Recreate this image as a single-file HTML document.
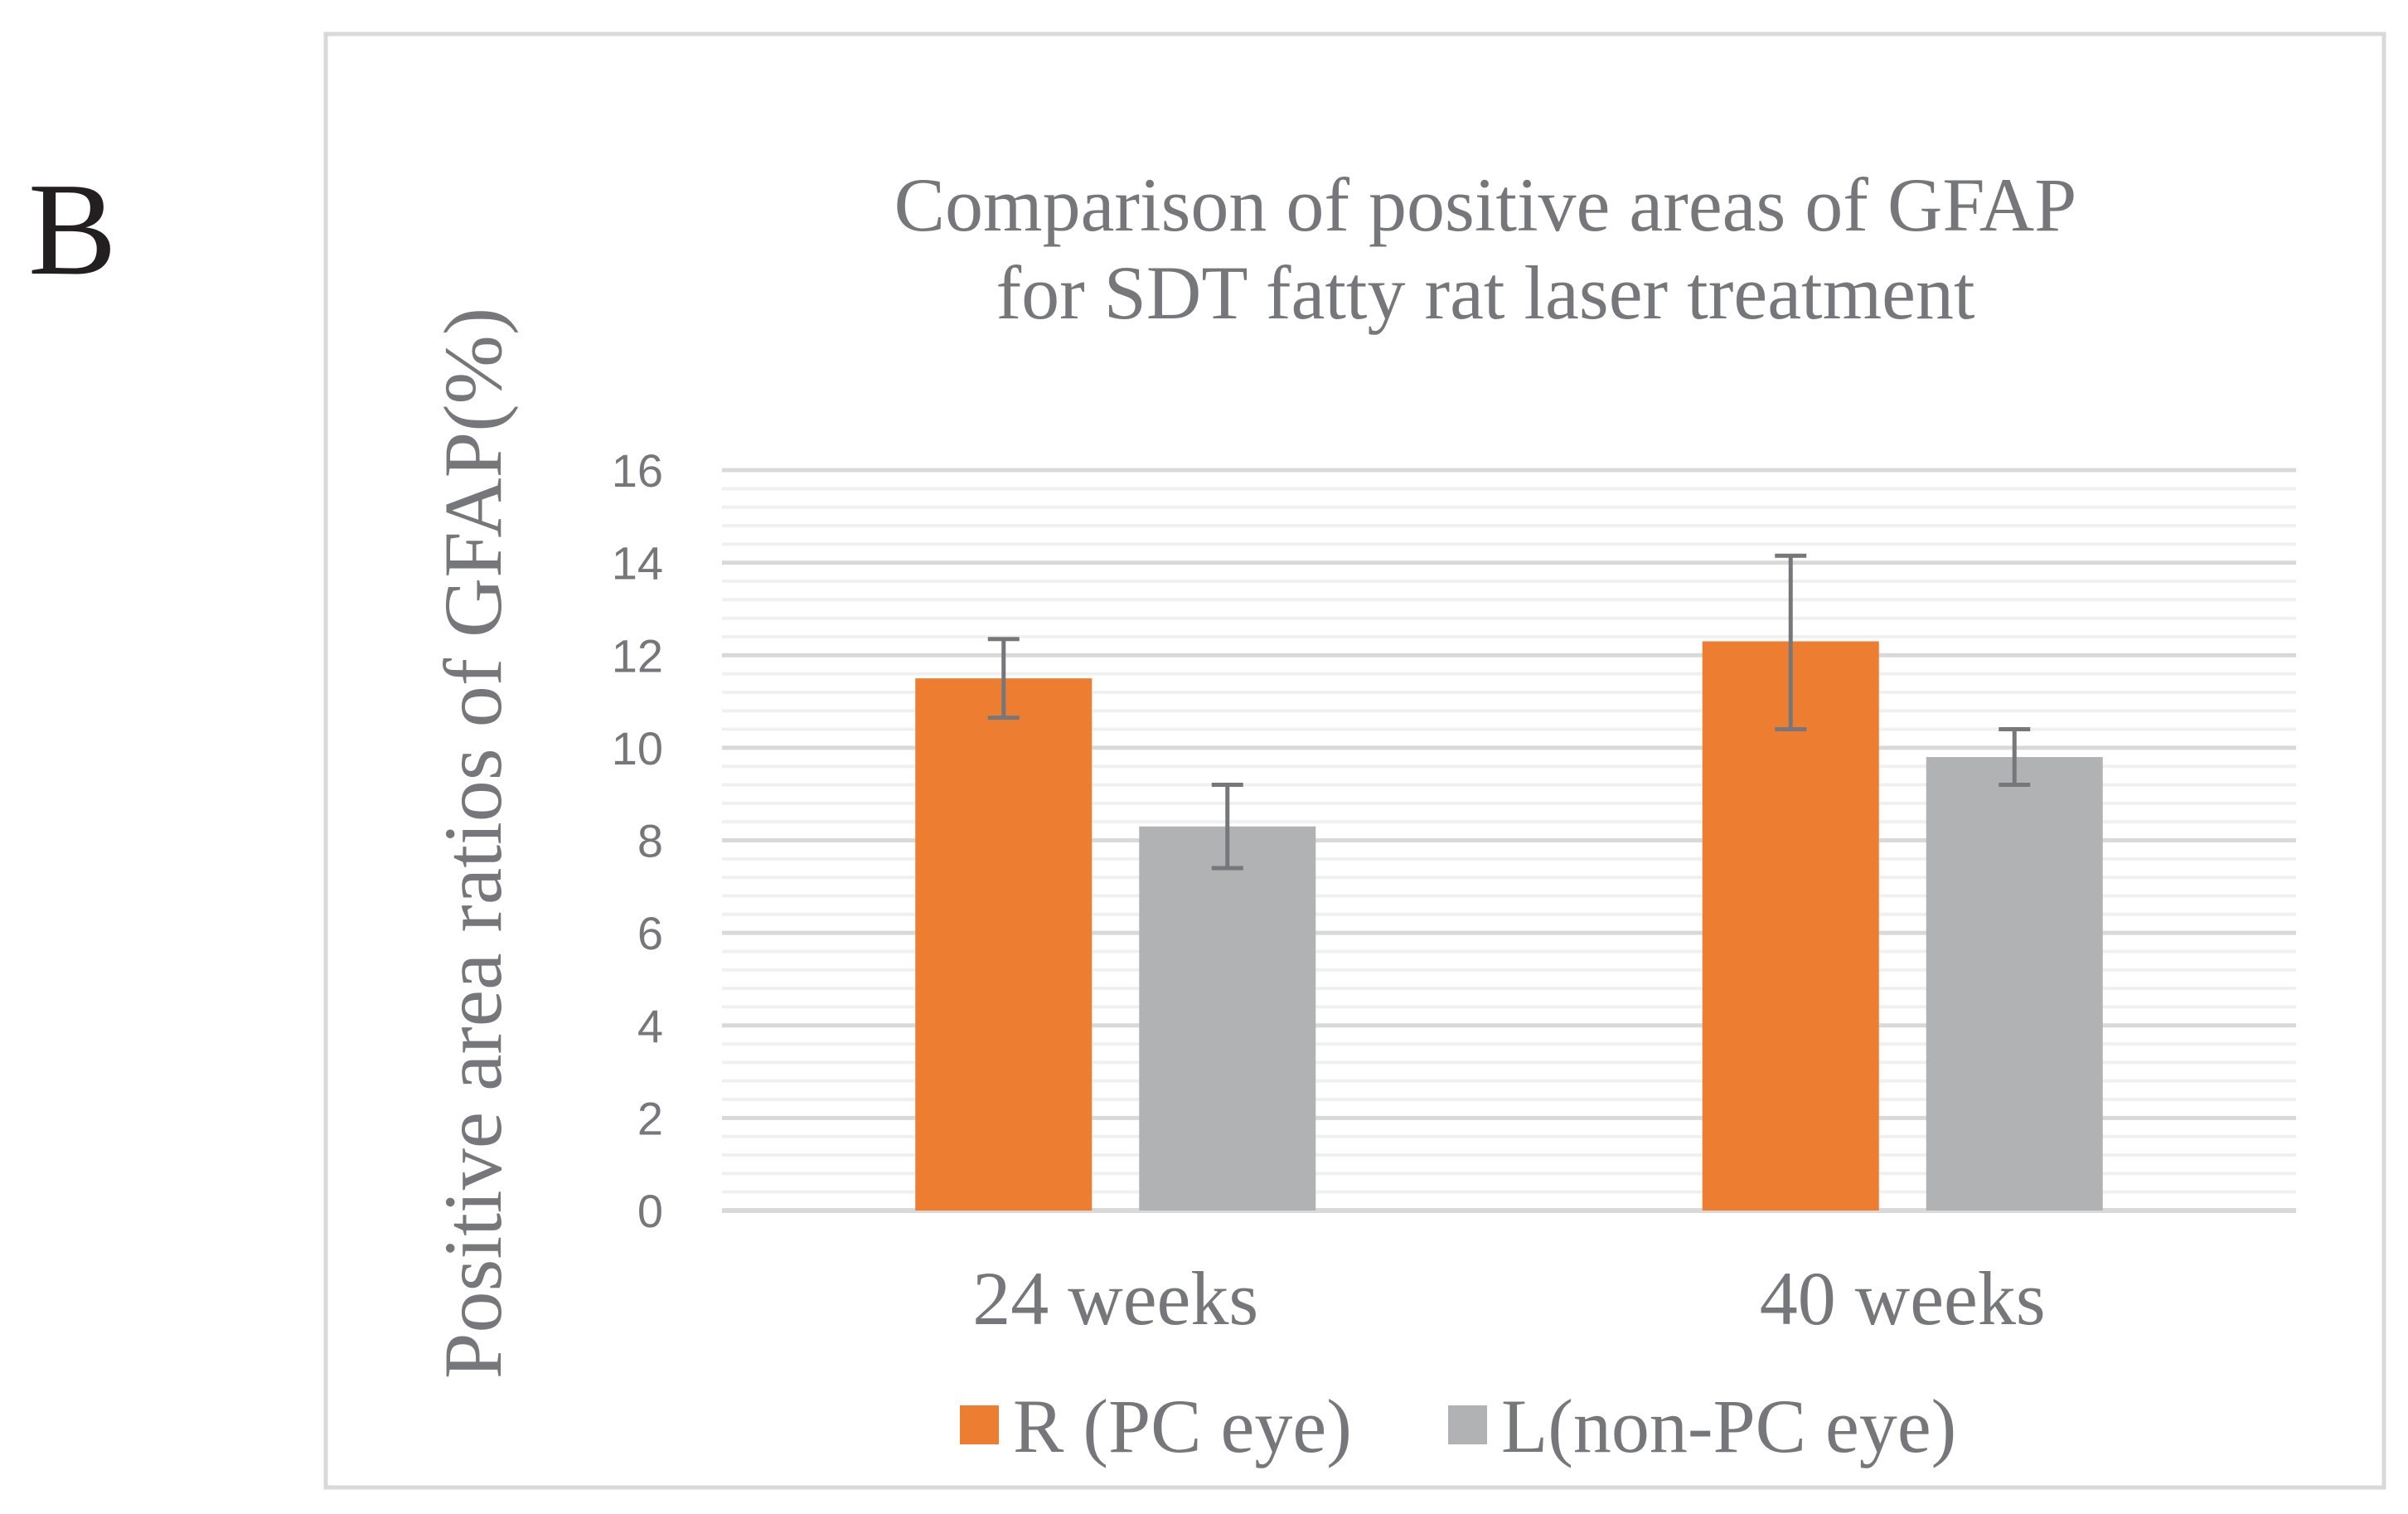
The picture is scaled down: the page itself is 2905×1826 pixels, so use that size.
<!DOCTYPE html>
<html><head><meta charset="utf-8"><style>
html,body{margin:0;padding:0;background:#fff;width:2905px;height:1826px;overflow:hidden}
svg text{font-family:"Liberation Serif",serif;fill:#76777b}
</style></head><body>
<svg id="chart" width="2905" height="1826" viewBox="0 0 2905 1826">
<text x="34" y="330" font-size="160" style="fill:#231f20">B</text>
<rect x="393" y="41" width="2483" height="1753" fill="none" stroke="#d9d9d9" stroke-width="5"/>
<text x="1792" y="278" font-size="92" text-anchor="middle">Comparison of positive areas of GFAP</text>
<text x="1792" y="384" font-size="92" text-anchor="middle">for SDT fatty rat laser treatment</text>
<text transform="translate(604,1017) rotate(-90)" font-size="100" text-anchor="middle">Positive area ratios of GFAP(%)</text>
<g id="grid"></g><g id="bars"></g><g id="errs"></g><g id="labels"></g>
<rect x="1158" y="1695" width="47" height="47" fill="#ed7d31"/>
<text x="1222" y="1751" font-size="92">R (PC eye)</text>
<rect x="1747" y="1695" width="47" height="47" fill="#b1b2b4"/>
<text x="1811" y="1751" font-size="92">L(non-PC eye)</text>
</svg>
<script>
const categories=["24 weeks","40 weeks"];
const rValues=[11.5,12.3];
const rErrLow=[10.65,10.4];
const rErrHigh=[12.35,14.15];
const lValues=[8.3,9.8];
const lErrLow=[7.4,9.2];
const lErrHigh=[9.2,10.4];
const yTicks=[0,2,4,6,8,10,12,14,16];

const NS="http://www.w3.org/2000/svg";
const X0=871,X1=2770,Y0=1460,Y16=567;
const yMax=16;
const y=v=>Y0-(Y0-Y16)*v/yMax;
const catW=(X1-X0)/categories.length;
const cx=i=>X0+catW*(i+0.5);
const barW=213, off=135;
function mk(tag,attrs,parent){const e=document.createElementNS(NS,tag);for(const k in attrs)e.setAttribute(k,attrs[k]);document.getElementById(parent).appendChild(e);return e;}

for(let v=0;v<=yMax+0.001;v+=0.4){
  const major=Math.abs(v/2-Math.round(v/2))<0.01;
  if(major)continue;
  const l=mk('line',{x1:X0,x2:X1,y1:y(v),y2:y(v),stroke:'#f0f0f0','stroke-width':4},'grid');
  
  
}
yTicks.forEach(t=>{
  const l=mk('line',{x1:X0,x2:X1,y1:y(t),y2:y(t),stroke:'#d9d9d9','stroke-width':t===0?6:5},'grid');
  
  
  const tx=mk('text',{x:800,y:y(t)+20,'font-size':56,'text-anchor':'end',style:'font-family:"Liberation Sans",sans-serif'},'labels');
  tx.textContent=t;
  
  
});
function bar(i,v,lo,hi,dx,color,name){
  const r=mk('rect',{x:cx(i)+dx-barW/2,y:y(v),width:barW,height:Y0-y(v),fill:color},'bars');
  
  
  const g=mk('g',{stroke:'#76777b','stroke-width':5},'errs');
  
  
  const x=cx(i)+dx;
  [[x,x,y(lo),y(hi)],[x-19,x+19,y(lo),y(lo)],[x-19,x+19,y(hi),y(hi)]].forEach(a=>{
    const l=document.createElementNS(NS,'line');
    l.setAttribute('x1',a[0]);l.setAttribute('x2',a[1]);l.setAttribute('y1',a[2]);l.setAttribute('y2',a[3]);
    g.appendChild(l);
  });
}
categories.forEach((c,i)=>{
  bar(i,rValues[i],rErrLow[i],rErrHigh[i],-off,'#ed7d31','bar-r-'+i);
  bar(i,lValues[i],lErrLow[i],lErrHigh[i],off,'#b1b2b4','bar-l-'+i);
  const t=mk('text',{x:cx(i),y:1597,'font-size':92,'text-anchor':'middle'},'labels');
  t.textContent=c;
  
  
});
</script>
</body></html>
